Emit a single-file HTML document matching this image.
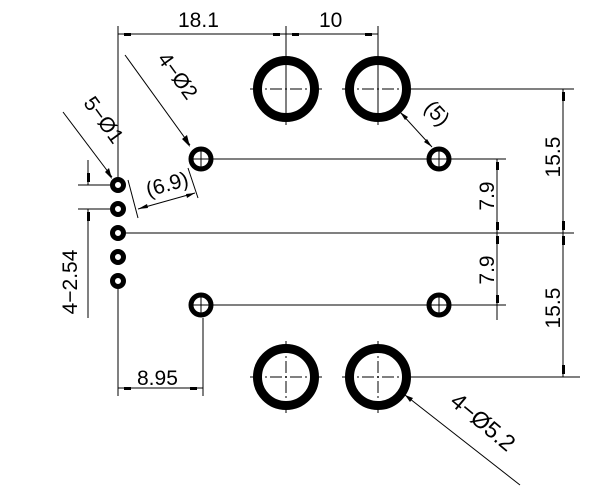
<!DOCTYPE html><html><head><style>body{margin:0;background:#fff}svg{display:block}text{font-family:"Liberation Sans",sans-serif;font-size:21px;fill:#000}</style></head><body>
<svg width="614" height="494" viewBox="0 0 614 494" xmlns="http://www.w3.org/2000/svg">
<g stroke="#000" stroke-width="1" fill="none">
<line x1="118" y1="26" x2="118" y2="180"/>
<line x1="118" y1="34" x2="378" y2="34"/>
<line x1="286" y1="26" x2="286" y2="122"/>
<line x1="378" y1="26" x2="378" y2="122"/>
<line x1="411" y1="89" x2="574" y2="89"/>
<line x1="212" y1="159" x2="506" y2="159"/>
<line x1="126" y1="233" x2="574" y2="233"/>
<line x1="212" y1="305" x2="506" y2="305"/>
<line x1="411" y1="377" x2="580" y2="377"/>
<line x1="497" y1="159" x2="497" y2="320"/>
<line x1="563" y1="89" x2="563" y2="377"/>
<line x1="88" y1="160" x2="88" y2="185"/>
<line x1="88" y1="209" x2="88" y2="318"/>
<line x1="78" y1="185" x2="110" y2="185"/>
<line x1="78" y1="209" x2="110" y2="209"/>
<line x1="118" y1="289" x2="118" y2="396"/>
<line x1="203" y1="318" x2="203" y2="396"/>
<line x1="118" y1="388" x2="203" y2="388"/>
<line x1="125" y1="55" x2="190" y2="145"/>
<line x1="63" y1="112" x2="112" y2="177"/>
<line x1="128" y1="180" x2="138" y2="218"/>
<line x1="188" y1="168" x2="198" y2="198"/>
<line x1="138" y1="209" x2="195" y2="193"/>
<line x1="400" y1="112" x2="432" y2="147"/>
<line x1="405" y1="395" x2="520" y2="485"/>
</g>
<g fill="#000">
<rect x="124" y="33" width="7" height="3"/><rect x="273" y="33" width="7" height="3"/><rect x="292" y="33" width="7" height="3"/><rect x="365" y="33" width="7" height="3"/>
<rect x="496" y="162" width="3" height="8"/><rect x="496" y="222" width="3" height="8"/><rect x="496" y="236" width="3" height="8"/><rect x="496" y="295" width="3" height="8"/>
<rect x="562" y="92" width="3" height="9"/><rect x="562" y="221" width="3" height="9"/><rect x="562" y="236" width="3" height="9"/><rect x="562" y="365" width="3" height="9"/>
<rect x="87" y="173" width="3" height="9"/><rect x="87" y="212" width="3" height="9"/>
<rect x="124" y="387" width="7" height="3"/><rect x="190" y="387" width="7" height="3"/>
<polygon points="190,147 182,139 187,135"/><polygon points="112,179 105,172 109,168"/>
<polygon points="138,209 147,204 148,208"/><polygon points="195,193 186,194 187,198"/>
<polygon points="400,112 408,117 405,120"/><polygon points="432,147 424,142 427,139"/>
<polygon points="405,395 413,398 410,402"/>
</g>
<g fill="none" stroke="#000">
<circle cx="286" cy="89" r="28.5" stroke-width="9"/><circle cx="378" cy="89" r="28.5" stroke-width="9"/>
<circle cx="286" cy="377" r="28.5" stroke-width="9"/><circle cx="378" cy="377" r="28.5" stroke-width="9"/>
<circle cx="201" cy="159" r="10" stroke-width="5"/><circle cx="439" cy="159" r="10" stroke-width="5"/>
<circle cx="201" cy="305" r="10" stroke-width="5"/><circle cx="439" cy="305" r="10" stroke-width="5"/>
<circle cx="118" cy="185" r="5.5" stroke-width="5"/><circle cx="118" cy="209" r="5.5" stroke-width="5"/><circle cx="118" cy="233" r="5.5" stroke-width="5"/><circle cx="118" cy="257" r="5.5" stroke-width="5"/><circle cx="118" cy="281" r="5.5" stroke-width="5"/>
</g>
<g stroke="#000" stroke-width="1" stroke-dasharray="12,3,2,3">
<line x1="250" y1="89" x2="322" y2="89"/><line x1="286" y1="53" x2="286" y2="125"/>
<line x1="342" y1="89" x2="414" y2="89"/><line x1="378" y1="53" x2="378" y2="125"/>
<line x1="250" y1="377" x2="322" y2="377"/><line x1="286" y1="341" x2="286" y2="413"/>
<line x1="342" y1="377" x2="414" y2="377"/><line x1="378" y1="341" x2="378" y2="413"/>
</g>
<g stroke="#000" stroke-width="1">
<line x1="191" y1="159" x2="211" y2="159"/><line x1="201" y1="147" x2="201" y2="171"/>
<line x1="429" y1="159" x2="449" y2="159"/><line x1="439" y1="147" x2="439" y2="171"/>
<line x1="191" y1="305" x2="211" y2="305"/><line x1="201" y1="293" x2="201" y2="317"/>
<line x1="429" y1="305" x2="449" y2="305"/><line x1="439" y1="293" x2="439" y2="317"/>
</g>
<text x="178" y="27">18.1</text>
<text x="319" y="27">10</text>
<text x="137" y="385">8.95</text>
<text transform="translate(494,196) rotate(-90)" text-anchor="middle">7.9</text>
<text transform="translate(494,270) rotate(-90)" text-anchor="middle">7.9</text>
<text transform="translate(560,157) rotate(-90)" text-anchor="middle">15.5</text>
<text transform="translate(560,308) rotate(-90)" text-anchor="middle">15.5</text>
<text transform="translate(77,282) rotate(-90)" text-anchor="middle">4−2.54</text>
<text transform="translate(172,80) rotate(54)" text-anchor="middle">4−Ø2</text>
<text transform="translate(98,124) rotate(54)" text-anchor="middle">5−Ø1</text>
<text transform="translate(169,191) rotate(-16)" text-anchor="middle">(6.9)</text>
<text transform="translate(432,118) rotate(47)" text-anchor="middle">(5)</text>
<text transform="translate(478,428) rotate(40)" text-anchor="middle" style="font-size:23px">4−Ø5.2</text>
</svg></body></html>
